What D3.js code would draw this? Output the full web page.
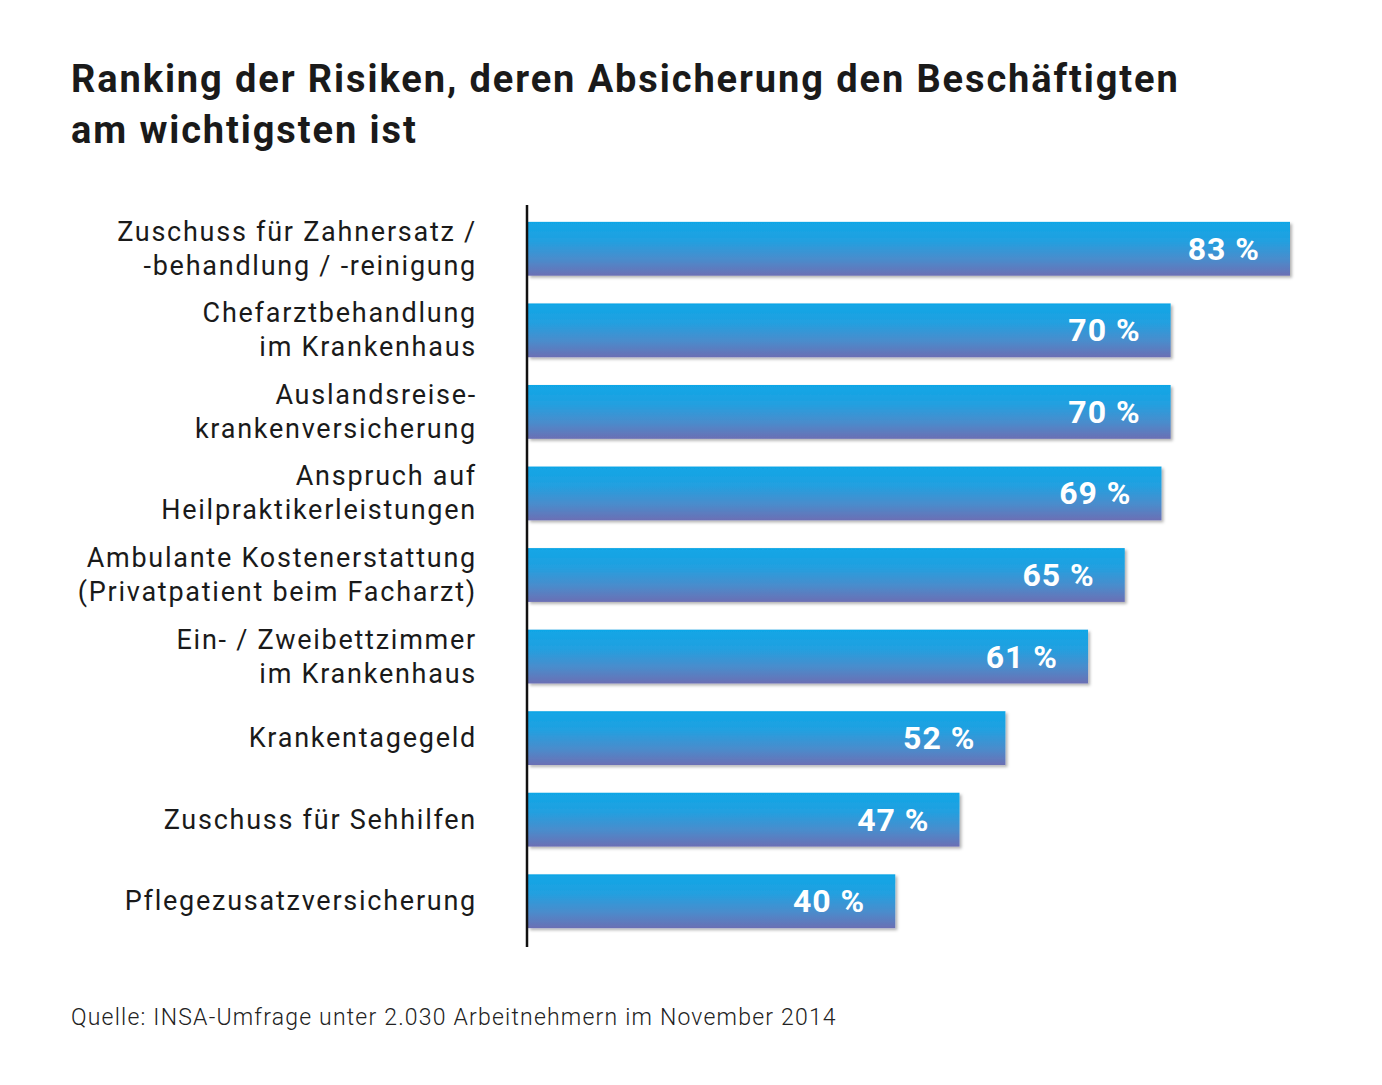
<!DOCTYPE html>
<html><head><meta charset="utf-8">
<script src="https://cdn.jsdelivr.net/npm/d3@7"></script>
<style>
html,body{margin:0;padding:0;background:#fff;}
svg{display:block;}
</style></head>
<body>
<script>
const categories = [
  ["Zuschuss für Zahnersatz /", "-behandlung / -reinigung"],
  ["Chefarztbehandlung", "im Krankenhaus"],
  ["Auslandsreise-", "krankenversicherung"],
  ["Anspruch auf", "Heilpraktikerleistungen"],
  ["Ambulante Kostenerstattung", "(Privatpatient beim Facharzt)"],
  ["Ein- / Zweibettzimmer", "im Krankenhaus"],
  ["Krankentagegeld"],
  ["Zuschuss für Sehhilfen"],
  ["Pflegezusatzversicherung"]
];
const values = [83, 70, 70, 69, 65, 61, 52, 47, 40];
const valueLabels = values.map(v => v + " %");
const titleLines = ["Ranking der Risiken, deren Absicherung den Beschäftigten", "am wichtigsten ist"];
const source = "Quelle: INSA-Umfrage unter 2.030 Arbeitnehmern im November 2014";

const W = 1382, H = 1085;
const svg = d3.select("body").append("svg").attr("width", W).attr("height", H);
const defs = svg.append("defs");
const grad = defs.append("linearGradient").attr("id","barGrad").attr("x1",0).attr("y1",0).attr("x2",0).attr("y2",1);
grad.append("stop").attr("offset","0%").attr("stop-color","#10a6e6");
grad.append("stop").attr("offset","35%").attr("stop-color","#22a0e0");
grad.append("stop").attr("offset","70%").attr("stop-color","#4a8ccc");
grad.append("stop").attr("offset","100%").attr("stop-color","#6b6fb4");
const f = defs.append("filter").attr("id","shadow").attr("x","-5%").attr("y","-20%").attr("width","115%").attr("height","150%");
f.append("feDropShadow").attr("dx",2).attr("dy",2).attr("stdDeviation",1.5).attr("flood-color","#000").attr("flood-opacity",0.3);

const fontBase = "Roboto, 'Open Sans', sans-serif";

// Title
svg.append("g").selectAll("text").data(titleLines).join("text")
  .attr("x", 71).attr("y", (d,i) => 92 + i*51)
  .attr("font-family", fontBase).attr("font-weight", 700)
  .attr("font-size", 38).attr("letter-spacing", 1.9).attr("fill", "#1a1a1a")
  .text(d => d);

const x0 = 528;
const x = d3.scaleLinear().domain([0, 83]).range([x0, 1290]);
const y = d3.scaleBand().domain(d3.range(values.length)).range([208, 942]).paddingInner(0.34).paddingOuter(0.17);

const g = svg.append("g");
g.selectAll("rect.bar").data(values).join("rect")
  .attr("class","bar")
  .attr("x", x(0)).attr("y", (d,i) => y(i))
  .attr("width", d => x(d) - x(0)).attr("height", y.bandwidth())
  .attr("fill", "url(#barGrad)").attr("filter","url(#shadow)");

g.selectAll("text.val").data(values).join("text")
  .attr("class","val")
  .attr("x", d => x(d) - 30).attr("y", (d,i) => y(i) + y.bandwidth()/2 + 11)
  .attr("text-anchor","end")
  .attr("font-family", fontBase).attr("font-weight", 700)
  .attr("font-size", 32).attr("letter-spacing", 1).attr("fill", "#fff")
  .text((d,i) => valueLabels[i]);

// axis line
svg.append("line").attr("x1", 527).attr("x2", 527).attr("y1", 205).attr("y2", 947)
  .attr("stroke", "#111").attr("stroke-width", 2.5);

// category labels
const lab = g.selectAll("g.lab").data(categories).join("g").attr("class","lab");
lab.each(function(lines, i) {
  const cy = y(i) + y.bandwidth()/2;
  const n = lines.length;
  d3.select(this).selectAll("text").data(lines).join("text")
    .attr("x", 477)
    .attr("y", (d,j) => cy + (j - (n-1)/2) * 34 + 9)
    .attr("text-anchor","end")
    .attr("font-family", fontBase).attr("font-size", 27)
    .attr("letter-spacing", 1.75)
    .attr("fill", "#1a1a1a")
    .text(d => d);
});

// source
svg.append("text").attr("x", 71).attr("y", 1025)
  .attr("font-family", fontBase).attr("font-weight", 300)
  .attr("font-size", 23).attr("letter-spacing", 1.2).attr("fill", "#222")
  .text(source);
</script>
</body></html>
